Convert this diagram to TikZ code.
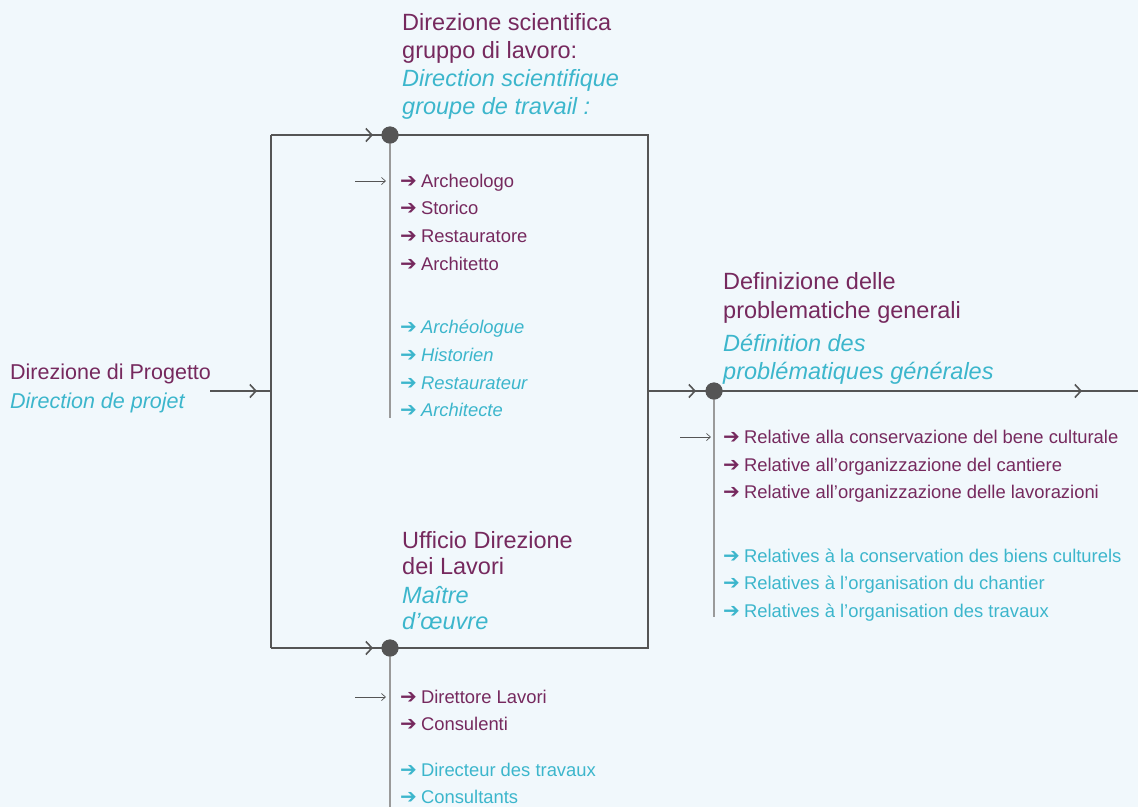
\documentclass[tikz,border=0pt]{standalone}
\usepackage{fontspec}
\setmainfont{Liberation Sans}
\newfontfamily\arrfont{DejaVu Sans}
\usetikzlibrary{arrows.meta,decorations.markings}
\definecolor{bgc}{HTML}{F1F8FC}
\definecolor{purp}{HTML}{76295E}
\definecolor{cyanc}{HTML}{3CB6CC}
\definecolor{linec}{HTML}{555555}
\definecolor{vlinec}{HTML}{9A9A9A}
\newcommand{\itm}[1]{{\arrfont\fontsize{20}{20}\selectfont\upshape\char"2794}\hspace{0.22em}#1}
\tikzset{
  mainline/.style={draw=linec, line width=1.8pt},
  vline/.style={draw=vlinec, line width=1.6pt},
  chev/.style={postaction={decorate}, decoration={markings,
     mark=at position #1 with {\arrow{Straight Barb[length=6pt,width=13pt,line width=1.6pt]}}}},
  thinarr/.style={draw=linec, line width=0.7pt, -{Straight Barb[length=4pt,width=7pt,line width=0.7pt]}},
  dotc/.style={circle, fill=linec, minimum size=17pt, inner sep=0},
  ttl/.style={anchor=base west, inner sep=0, text=purp, font=\fontsize{23.5}{26}\selectfont},
  ttlf/.style={ttl, text=cyanc, font=\fontsize{23.5}{26}\selectfont\itshape},
  itmp/.style={anchor=base west, inner sep=0, text=purp, font=\fontsize{18.4}{20}\selectfont},
  itmc/.style={itmp, text=cyanc},
  itmci/.style={itmp, text=cyanc, font=\fontsize{18.4}{20}\selectfont\itshape},
}
\begin{document}
\begin{tikzpicture}[x=1pt,y=-1pt]
\fill[bgc] (0,0) rectangle (1138,807);
\useasboundingbox (0,0) rectangle (1138,807);
% coordinates
\coordinate (in) at (210,391);
\coordinate (j1) at (271,391);
\coordinate (tl) at (271,135);
\coordinate (bl) at (271,648);
\coordinate (tr) at (648,135);
\coordinate (br) at (648,648);
\coordinate (j2) at (648,391);
\coordinate (out) at (1138,391);
\coordinate (v1) at (390,418);
\coordinate (v2) at (390,807);
\coordinate (v3) at (714,617);
\coordinate (a1s) at (355,181);
\coordinate (a1e) at (386,181);
\coordinate (a2s) at (355,697);
\coordinate (a2e) at (386,697);
\coordinate (a3s) at (680,437);
\coordinate (a3e) at (711,437);
% vertical item lines
\node[dotc] (d1) at (390,135) {};
\node[dotc] (d2) at (390,648) {};
\node[dotc] (d3) at (714,391) {};
\draw[vline] (d1.center) -- (v1);
\draw[vline] (d2.center) -- (v2);
\draw[vline] (d3.center) -- (v3);
% main lines
\draw[mainline, chev=-14pt] (in) -- (j1);
\draw[mainline] (tl) -- (bl);
\draw[mainline, chev=-17pt] (tl) -- (d1.center);
\draw[mainline] (d1.center) -- (tr) -- (br) -- (d2.center);
\draw[mainline, chev=-17pt] (bl) -- (d2.center);
\draw[mainline, chev=-18pt] (j2) -- (d3.center);
\draw[mainline, chev=-56pt] (d3.center) -- (out);
\node[dotc] at (d1) {};
\node[dotc] at (d2) {};
\node[dotc] at (d3) {};
% thin arrows
\draw[thinarr] (a1s) -- (a1e);
\draw[thinarr] (a2s) -- (a2e);
\draw[thinarr] (a3s) -- (a3e);
% left label
\node[ttl, font=\fontsize{21.5}{24}\selectfont] (l1) at (10,379) {Direzione di Progetto};
\node[ttlf, font=\fontsize{21.5}{24}\selectfont\itshape] (l2) at (10,408) {Direction de projet};
% top title
\node[ttl] (t1) at (402,30) {Direzione scientifica};
\node[ttl] (t2) at (402,58) {gruppo di lavoro:};
\node[ttlf] (t3) at (402,86) {Direction scientifique};
\node[ttlf] (t4) at (402,114) {groupe de travail :};
% top items
\node[itmp] (i1) at (400,187) {\itm{Archeologo}};
\node[itmp] (i2) at (400,214) {\itm{Storico}};
\node[itmp] (i3) at (400,242) {\itm{Restauratore}};
\node[itmp] (i4) at (400,270) {\itm{Architetto}};
\node[itmci] (i5) at (400,333) {\itm{Archéologue}};
\node[itmci] (i6) at (400,361) {\itm{Historien}};
\node[itmci] (i7) at (400,389) {\itm{Restaurateur}};
\node[itmci] (i8) at (400,416) {\itm{Architecte}};
% right title
\node[ttl] (r1) at (723,289) {Definizione delle};
\node[ttl] (r2) at (723,318) {problematiche generali};
\node[ttlf] (r3) at (723,351) {Définition des};
\node[ttlf] (r4) at (723,379) {problématiques générales};
% right items
\node[itmp] (k1) at (723,443) {\itm{Relative alla conservazione del bene culturale}};
\node[itmp] (k2) at (723,471) {\itm{Relative all’organizzazione del cantiere}};
\node[itmp] (k3) at (723,498) {\itm{Relative all’organizzazione delle lavorazioni}};
\node[itmc] (k4) at (723,562) {\itm{Relatives à la conservation des biens culturels}};
\node[itmc] (k5) at (723,589) {\itm{Relatives à l’organisation du chantier}};
\node[itmc] (k6) at (723,617) {\itm{Relatives à l’organisation des travaux}};
% bottom title
\node[ttl] (u1) at (402,548) {Ufficio Direzione};
\node[ttl] (u2) at (402,574) {dei Lavori};
\node[ttlf] (u3) at (402,603) {Maître};
\node[ttlf] (u4) at (402,629) {d’œuvre};
% bottom items
\node[itmp] (b1) at (400,703) {\itm{Direttore Lavori}};
\node[itmp] (b2) at (400,730) {\itm{Consulenti}};
\node[itmc] (b3) at (400,776) {\itm{Directeur des travaux}};
\node[itmc] (b4) at (400,803) {\itm{Consultants}};
\end{tikzpicture}
\end{document}
